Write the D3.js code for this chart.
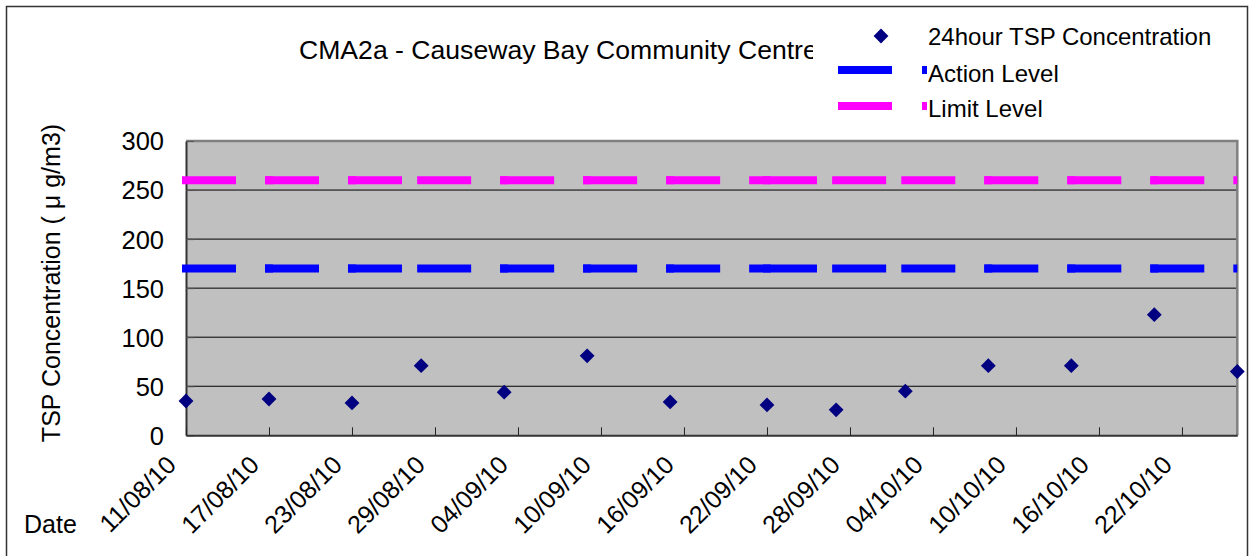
<!DOCTYPE html>
<html>
<head>
<meta charset="utf-8">
<script src="https://cdn.jsdelivr.net/npm/d3@7"></script>
<style>
  html, body { margin: 0; padding: 0; background: #fff; }
  svg { display: block; }
  text { font-family: "Liberation Sans", Arial, sans-serif; fill: #000; }
</style>
</head>
<body>
<svg id="chart" width="1250" height="556"></svg>
<script>
// ---- data ----
const dates = ["2010-08-11","2010-08-17","2010-08-23","2010-08-28","2010-09-03","2010-09-09","2010-09-15",
               "2010-09-22","2010-09-27","2010-10-02","2010-10-08","2010-10-14","2010-10-20","2010-10-26"];
const tsp = [35, 37, 33, 71, 44, 81, 34, 31, 26, 45, 71, 71, 123, 65];
const actionLevel = [170,170,170,170,170,170,170,170,170,170,170,170,170,170];
const limitLevel  = [260,260,260,260,260,260,260,260,260,260,260,260,260,260];
const xTickLabels = ["11/08/10","17/08/10","23/08/10","29/08/10","04/09/10","10/09/10","16/09/10",
                     "22/09/10","28/09/10","04/10/10","10/10/10","16/10/10","22/10/10"];
const yTicks = [0, 50, 100, 150, 200, 250, 300];
const title = "CMA2a - Causeway Bay Community Centre";
const yTitle = "TSP Concentration ( \u03bc g/m3)";
const xTitle = "Date";
const legendItems = ["24hour TSP Concentration", "Action Level", "Limit Level"];

// ---- layout ----
const svg = d3.select("#chart");
const pl = 186, pr = 1237.3, pt = 141, pb = 435.3;
const parse = d3.utcParse("%Y-%m-%d");
const fmtIn = d3.utcParse("%d/%m/%y");
const dDates = dates.map(parse);
const x = d3.scaleUtc().domain([dDates[0], dDates[dDates.length - 1]]).range([pl, pr]);
const y = d3.scaleLinear().domain([0, 300]).range([pb, pt]);

// outer border
svg.append("rect").attr("x", 6.5).attr("y", 6.5).attr("width", 1241).attr("height", 560)
  .attr("fill", "#fff").attr("stroke", "#333").attr("stroke-width", 1.5);

// title
svg.append("text").attr("x", 299).attr("y", 59).attr("font-size", 26.6).text(title);

// plot area
svg.append("rect").attr("x", pl).attr("y", pt).attr("width", pr - pl).attr("height", pb - pt)
  .attr("fill", "#c0c0c0");

// gridlines
svg.append("g").selectAll("line").data(yTicks.filter(v => v > 0 && v < 300)).join("line")
  .attr("x1", pl).attr("x2", pr).attr("y1", d => y(d)).attr("y2", d => y(d))
  .attr("stroke", "#000").attr("stroke-width", 1);

// plot frame (top & right)
svg.append("path").attr("d", `M${pl},${pt}H${pr}V${pb}`).attr("fill", "none")
  .attr("stroke", "#808080").attr("stroke-width", 2.5);

// y axis
const yAxis = svg.append("g").attr("transform", `translate(${pl},0)`)
  .call(d3.axisLeft(y).tickValues(yTicks).tickSizeInner(-8).tickSizeOuter(0).tickFormat(d3.format("d")));
yAxis.select(".domain").attr("stroke", "#333").attr("stroke-width", 2);
yAxis.selectAll(".tick line").attr("stroke", "#555");
yAxis.selectAll(".tick text").attr("x", -22).attr("dy", "0.35em").attr("font-size", 25.5)
  .attr("font-family", "Liberation Sans, Arial, sans-serif").attr("fill", "#000");

// x axis
const tickDates = xTickLabels.map(fmtIn);
const xAxis = svg.append("g").attr("transform", `translate(0,${pb})`)
  .call(d3.axisBottom(x).tickValues(tickDates).tickSizeInner(-8).tickSizeOuter(0)
    .tickFormat((d, i) => xTickLabels[i]));
xAxis.select(".domain").attr("stroke", "#333").attr("stroke-width", 2);
xAxis.selectAll(".tick line").attr("stroke", "#222");
xAxis.selectAll(".tick text").attr("x", 0).attr("y", 0).attr("dy", 0)
  .attr("transform", "translate(-9,31) rotate(-45)").attr("text-anchor", "end")
  .attr("font-size", 25).attr("font-family", "Liberation Sans, Arial, sans-serif").attr("fill", "#000");

// dashed level lines (each segment restarts its dash pattern, like the source)
svg.append("defs").append("clipPath").attr("id", "clipR")
  .append("rect").attr("x", 0).attr("y", 0).attr("width", pr).attr("height", 556);
function levelLine(vals, color) {
  const g = svg.append("g").attr("clip-path", "url(#clipR)");
  const segs = d3.range(vals.length - 1).map(i => [i, i + 1]);
  g.selectAll("line").data(segs).join("line")
    .attr("x1", s => x(dDates[s[0]]) - 4).attr("x2", s => x(dDates[s[1]]) + 4)
    .attr("y1", s => y(vals[s[0]])).attr("y2", s => y(vals[s[1]]))
    .attr("stroke", color).attr("stroke-width", 8).attr("stroke-dasharray", "54 29");
}
levelLine(limitLevel, "#ff00ff");
levelLine(actionLevel, "#0000ff");

// diamonds
const diamond = d3.symbol().type(d3.symbolSquare).size(110);
svg.append("g").selectAll("path").data(tsp).join("path")
  .attr("d", diamond)
  .attr("transform", (d, i) => `translate(${x(dDates[i])},${y(d)}) rotate(45)`)
  .attr("fill", "#000080");

// axis titles
svg.append("text").attr("transform", "translate(60,283) rotate(-90)").attr("text-anchor", "middle")
  .attr("font-size", 25).text(yTitle);
svg.append("text").attr("x", 24).attr("y", 533).attr("font-size", 25).text(xTitle);

// legend
const lg = svg.append("g");
lg.append("rect").attr("x", 813).attr("y", 8).attr("width", 433).attr("height", 120).attr("fill", "#fff");
const ly = [36, 70, 106];
lg.append("path").attr("d", diamond).attr("transform", `translate(881,${ly[0]}) rotate(45)`).attr("fill", "#000080");
[["#0000ff", ly[1]], ["#ff00ff", ly[2]]].forEach(([c, yy]) => {
  lg.append("line").attr("x1", 838).attr("x2", 892).attr("y1", yy).attr("y2", yy)
    .attr("stroke", c).attr("stroke-width", 8);
  lg.append("rect").attr("x", 922).attr("y", yy - 4).attr("width", 5).attr("height", 8).attr("fill", c);
});
lg.selectAll("text").data(legendItems).join("text")
  .attr("x", 928).attr("y", (d, i) => [45, 82, 117][i]).attr("font-size", 24).text(d => d);
</script>
</body>
</html>
